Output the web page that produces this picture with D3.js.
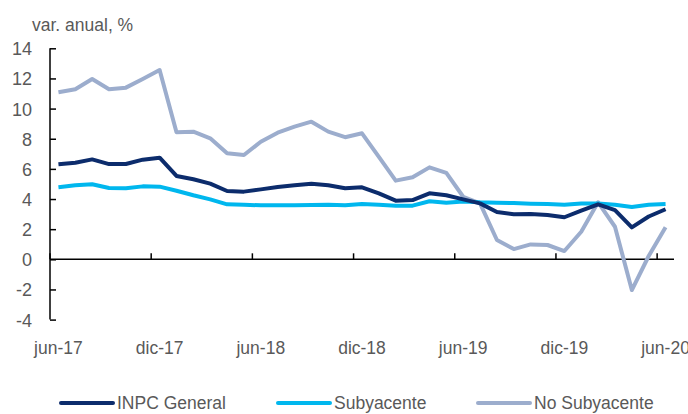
<!DOCTYPE html>
<html>
<head>
<meta charset="utf-8">
<script src="https://cdn.jsdelivr.net/npm/d3@7"></script>
<style>
  body { margin: 0; background: #fff; }
  text { font-family: "Liberation Sans", Arial, sans-serif; fill: #595959; }
</style>
</head>
<body>
<script>
// monthly data, jun-17 .. jun-20
var months = ["jun-17","jul-17","ago-17","sep-17","oct-17","nov-17","dic-17","ene-18","feb-18","mar-18","abr-18","may-18",
              "jun-18","jul-18","ago-18","sep-18","oct-18","nov-18","dic-18","ene-19","feb-19","mar-19","abr-19","may-19",
              "jun-19","jul-19","ago-19","sep-19","oct-19","nov-19","dic-19","ene-20","feb-20","mar-20","abr-20","may-20","jun-20"];
var tickMonths = ["jun-17","dic-17","jun-18","dic-18","jun-19","dic-19","jun-20"];
var yTicks = [-4, -2, 0, 2, 4, 6, 8, 10, 12, 14];

var inpc = [6.30,6.41,6.63,6.32,6.32,6.61,6.74,5.53,5.31,5.02,4.53,4.49,
            4.64,4.80,4.91,5.02,4.91,4.71,4.78,4.38,3.89,3.93,4.38,4.25,
            3.98,3.71,3.14,2.99,3.01,2.94,2.79,3.23,3.65,3.27,2.12,2.84,3.32];
var subyacente = [4.78,4.91,4.98,4.73,4.71,4.84,4.82,4.55,4.25,3.98,3.65,3.62,
                  3.58,3.58,3.58,3.60,3.62,3.58,3.67,3.62,3.56,3.56,3.85,3.76,
                  3.83,3.78,3.76,3.73,3.69,3.67,3.62,3.71,3.71,3.62,3.47,3.62,3.67];
var noSubyacente = [11.08,11.28,11.96,11.28,11.39,11.96,12.56,8.43,8.47,8.03,7.03,6.92,
                    7.80,8.40,8.80,9.13,8.47,8.10,8.36,6.80,5.22,5.44,6.10,5.73,
                    4.15,3.71,1.28,0.68,0.99,0.95,0.55,1.83,3.78,2.16,-2.04,0.22,2.12];

var series = [
  {name: "INPC General", values: inpc, color: "#0c2c6c"},
  {name: "Subyacente", values: subyacente, color: "#00b7ee"},
  {name: "No Subyacente", values: noSubyacente, color: "#9cadcd"}
];

var w = 688, h = 414;
var mLeft = 50, mRight = 674, mTop = 48.3, mBottom = 319.6;
var fs = "17.5px";

var svg = d3.select("body").append("svg")
    .attr("width", w)
    .attr("height", h);

var x = d3.scaleBand()
    .domain(months)
    .range([mLeft, mRight]);

var y = d3.scaleLinear()
    .domain([-4, 14])
    .range([mBottom, mTop]);

// title
svg.append("text")
    .attr("x", 32)
    .attr("y", 31)
    .attr("font-size", fs)
    .text("var. anual, %");

// y axis (ticks point inward, hyphen minus like the original)
var yAxis = svg.append("g")
    .attr("transform", "translate(" + mLeft + ",0)")
    .call(d3.axisRight(y).tickValues(yTicks).tickSize(6).tickFormat(function(d) { return String(d); }));
yAxis.select(".domain").attr("stroke", "#000").attr("stroke-width", 1.5).attr("d", "M0," + y(-4) + "V" + y(14));
yAxis.selectAll(".tick line").attr("stroke", "#000").attr("stroke-width", 1.5);
yAxis.selectAll(".tick text")
    .attr("x", -18)
    .attr("dy", "0.36em")
    .attr("text-anchor", "end")
    .attr("font-size", "18px")
    .attr("font-family", "'Liberation Sans', Arial, sans-serif")
    .attr("fill", "#595959");

// x axis at zero, tick marks between categories
var xAxis = svg.append("g").attr("transform", "translate(0," + y(0) + ")");
xAxis.append("line")
    .attr("x1", mLeft).attr("x2", mRight)
    .attr("stroke", "#000").attr("stroke-width", 1.5);
xAxis.selectAll("line.tk")
    .data(tickMonths)
    .enter().append("line")
    .attr("class", "tk")
    .attr("x1", function(d) { return x(d); })
    .attr("x2", function(d) { return x(d); })
    .attr("y1", 0).attr("y2", -6)
    .attr("stroke", "#000").attr("stroke-width", 1.5);

svg.append("g").selectAll("text")
    .data(tickMonths)
    .enter().append("text")
    .attr("x", function(d) { return x(d) + x.bandwidth() / 2; })
    .attr("y", 354)
    .attr("text-anchor", "middle")
    .attr("font-size", fs)
    .text(function(d) { return d; });

// lines
var line = d3.line()
    .x(function(d, i) { return x(months[i]) + x.bandwidth() / 2; })
    .y(function(d) { return y(d); });

svg.append("g").selectAll("path")
    .data(series.slice().reverse())
    .enter().append("path")
    .attr("d", function(d) { return line(d.values); })
    .attr("fill", "none")
    .attr("stroke", function(d) { return d.color; })
    .attr("stroke-width", 4)
    .attr("stroke-linejoin", "round");

// legend
var legendX = [61, 278, 478];
var legend = svg.append("g").selectAll("g")
    .data(series)
    .enter().append("g")
    .attr("transform", function(d, i) { return "translate(" + legendX[i] + ",403)"; });
legend.append("line")
    .attr("x1", 0).attr("x2", 52)
    .attr("stroke", function(d) { return d.color; })
    .attr("stroke-width", 4)
    .attr("stroke-linecap", "round");
legend.append("text")
    .attr("x", 56)
    .attr("dy", "0.36em")
    .attr("font-size", fs)
    .text(function(d) { return d.name; });
</script>
</body>
</html>
